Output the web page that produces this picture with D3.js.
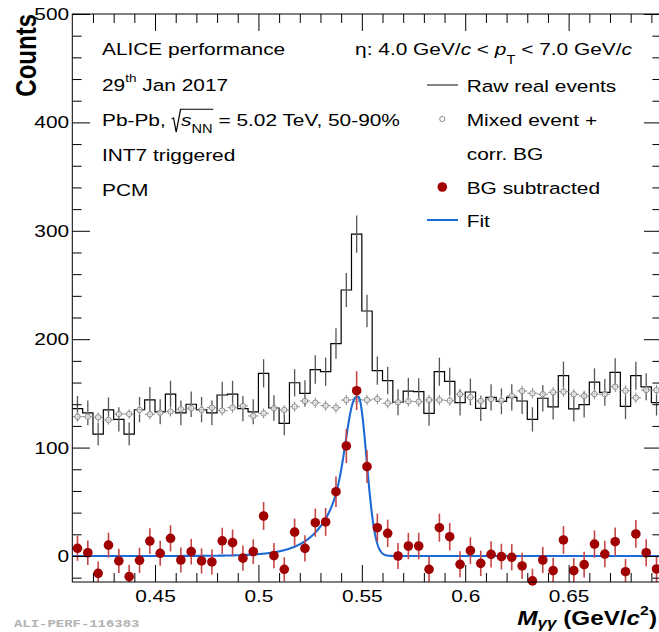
<!DOCTYPE html>
<html><head><meta charset="utf-8">
<script src="https://cdn.jsdelivr.net/npm/d3@7"></script>
<style>html,body{margin:0;padding:0;background:#fff;overflow:hidden} text{white-space:pre}</style>
</head><body><svg id="c" width="659" height="632" xmlns="http://www.w3.org/2000/svg"></svg>
<script>
// ---------------- data ----------------
const massBins = [0.4125,0.4175,0.4225,0.4275,0.4325,0.4375,0.4425,0.4475,0.4525,0.4575,
  0.4625,0.4675,0.4725,0.4775,0.4825,0.4875,0.4925,0.4975,0.5025,0.5075,
  0.5125,0.5175,0.5225,0.5275,0.5325,0.5375,0.5425,0.5475,0.5525,0.5575,
  0.5625,0.5675,0.5725,0.5775,0.5825,0.5875,0.5925,0.5975,0.6025,0.6075,
  0.6125,0.6175,0.6225,0.6275,0.6325,0.6375,0.6425,0.6475,0.6525,0.6575,
  0.6625,0.6675,0.6725,0.6775,0.6825,0.6875,0.6925];
const binHalf = 0.0025;
const rawCounts = [136,132,112.5,134.7,126,112.5,135,144,133,149.4,
  132,140,135,132,148.5,149.4,136,133,168.5,136.5,
  122.4,159.8,150,172,170,196,245.4,297,226,171,
  161.8,141.8,152,151.6,131.6,170,161,141.5,151.3,136.2,
  146.3,142.7,146.4,143,126,145.5,137.5,166.4,135.7,139.6,
  160.4,151,169.4,138,166.3,156.1,141.5];
const rawErr = [11.7,11.5,10.6,11.6,11.2,10.6,11.6,12,11.5,12.2,
  11.5,11.8,11.6,11.5,12.2,12.2,11.7,11.5,13,11.7,
  11.1,12.6,12.2,13.1,13,14,15.7,17.2,15,13.1,
  12.7,11.9,12.3,12.3,11.5,13,12.7,11.9,12.3,11.7,
  12.1,11.9,12.1,12,11.2,12.1,11.7,12.9,11.6,11.8,
  12.7,12.3,13,11.7,12.9,12.5,11.9];
const mixedBG = [128.5,128.5,128,125.5,131,131,134.7,130.7,132.2,133.2,
  135.3,136.3,134.7,136.8,134.1,136.8,138.4,129.2,131.6,136.2,
  134.7,137.8,143,141.4,138.7,136.8,143.9,144.5,143.9,144.8,
  140.9,141.8,142.7,142.4,143.9,143.9,143.3,149.2,146.4,143,
  144.8,143.3,147.6,152.2,150.1,149.2,151,151.6,149.2,147.6,
  149.4,149.2,156.2,152.5,146,153.1,153];
const mixedErr = [4.5,4.5,4.5,4.4,4.6,4.6,4.6,4.5,4.6,4.6,
  4.6,4.7,4.6,4.7,4.6,4.7,4.7,4.5,4.6,4.6,
  4.6,4.7,4.8,4.7,4.7,4.7,4.8,4.8,4.8,4.8,
  4.7,4.8,4.8,4.8,4.8,4.8,4.8,4.9,4.8,4.8,
  4.8,4.8,4.9,4.9,4.9,4.9,4.9,4.9,4.9,4.9,
  4.9,4.9,5,4.9,4.8,4.9,4.9];
const bgSub = [7.1,3,-16,10,-4.6,-19,-4,13.8,2.5,16.3,
  -3.7,4,-4.6,-5.5,14,12.3,-2,4,36.9,0.3,
  -12.3,22,7,30.7,31.4,59.3,101.5,152.5,82.4,26.1,
  20.9,0,9.2,9.2,-12.3,26.1,17.8,-7.7,4.9,-6.8,
  1.5,-0.6,-1.2,-9.2,-23,-3.7,-13.5,14.8,-13.5,-8,
  11,1.8,13.2,-14.5,20.3,3,-12];
const bgSubErr = [11.6,11.4,10.8,11.5,11.2,10.8,11.6,11.9,11.5,12.1,
  11.5,11.8,11.6,11.5,12.1,12.1,11.7,11.4,12.9,11.7,
  11.1,12.5,12.2,13,12.9,14,15.8,18,15.1,13,
  12.6,11.9,12.2,12.2,11.5,12.9,12.6,12,12.3,11.7,
  12.1,11.9,12.1,12.1,11.3,12.1,11.8,12.8,11.7,11.8,
  12.6,12.3,13,11.8,12.8,12.5,12];
// fit: Gaussian with exponential low-mass tail, linear residual BG
const fitAmp = 147, fitMean = 0.5482, fitSigma = 0.0041, fitLambda = 0.0108;
const fitBG = [0, 0];
const xMajorTicks = [0.45,0.5,0.55,0.6,0.65];
const xMinorTicks = [0.42,0.43,0.44,0.46,0.47,0.48,0.49,0.51,0.52,0.53,0.54,0.56,0.57,0.58,0.59,0.61,0.62,0.63,0.64,0.66,0.67,0.68,0.69];
const yMajorTicks = [0,100,200,300,400,500];
const yMinorTicks = [-20,20,40,60,80,120,140,160,180,220,240,260,280,320,340,360,380,420,440,460,480];

// ---------------- setup ----------------
const S = 1.214;          // horizontal stretch of the original picture
const FS = 17.2;
const FONT = "'Liberation Sans', Arial, Helvetica, sans-serif";
const svg = d3.select("#c").attr("font-family", FONT);
const x = d3.scaleLinear().domain([0.41, 0.695]).range([72.3, 661.7]);
const y = d3.scaleLinear().domain([-24, 500]).range([582, 14]);
const X0 = x.range()[0], X1 = x.range()[1], Y0 = y.range()[0], Y1 = y.range()[1];

svg.append("defs").append("clipPath").attr("id","clip").append("rect")
  .attr("x", X0).attr("y", Y1).attr("width", X1 - X0).attr("height", Y0 - Y1);
const plot = svg.append("g").attr("clip-path","url(#clip)");

// ---------------- raw histogram ----------------
const edges = massBins.map(m => m - binHalf);
edges.push(massBins[massBins.length-1] + binHalf);
const stepPts = edges.map((e,i) => [e, rawCounts[Math.min(i, rawCounts.length-1)]]);
plot.append("path").datum(stepPts)
  .attr("d", d3.line().x(d=>x(d[0])).y(d=>y(d[1])).curve(d3.curveStepAfter))
  .attr("fill","none").attr("stroke","#000").attr("stroke-width",1.2);
plot.append("g").selectAll("line").data(massBins).join("line")
  .attr("x1",(m)=>x(m)).attr("x2",(m)=>x(m))
  .attr("y1",(m,i)=>y(rawCounts[i]-rawErr[i])).attr("y2",(m,i)=>y(rawCounts[i]+rawErr[i]))
  .attr("stroke","#555").attr("stroke-width",1.3);

// ---------------- mixed event BG ----------------
const mg = plot.append("g").attr("stroke","#8a8a8a").attr("stroke-width",1).attr("fill","none");
mg.selectAll("line.h").data(massBins).join("line").attr("class","h")
  .attr("x1",m=>x(m-binHalf)).attr("x2",m=>x(m+binHalf))
  .attr("y1",(m,i)=>y(mixedBG[i])).attr("y2",(m,i)=>y(mixedBG[i]));
mg.selectAll("line.v").data(massBins).join("line").attr("class","v")
  .attr("x1",m=>x(m)).attr("x2",m=>x(m))
  .attr("y1",(m,i)=>y(mixedBG[i]-mixedErr[i])).attr("y2",(m,i)=>y(mixedBG[i]+mixedErr[i]));
mg.selectAll("circle").data(massBins).join("circle")
  .attr("cx",m=>x(m)).attr("cy",(m,i)=>y(mixedBG[i])).attr("r",2.7)
  .attr("fill","#fff").attr("fill-opacity",0.6);

// ---------------- BG subtracted ----------------
const rg = svg.append("g");
rg.selectAll("line").data(massBins).join("line")
  .attr("x1",m=>x(m)).attr("x2",m=>x(m))
  .attr("y1",(m,i)=>Math.min(Y0, y(bgSub[i]-bgSubErr[i]))).attr("y2",(m,i)=>y(bgSub[i]+bgSubErr[i]))
  .attr("stroke","#c64646").attr("stroke-width",1.6);
rg.selectAll("circle").data(massBins).join("circle")
  .attr("cx",m=>x(m)).attr("cy",(m,i)=>y(bgSub[i])).attr("r",4.8)
  .attr("fill","#a00000");

// ---------------- fit ----------------
function fitFn(m){
  const d = m - fitMean;
  const g = Math.exp(-d*d/(2*fitSigma*fitSigma));
  const peak = d < 0 ? g + (1-g)*Math.exp(d/fitLambda) : g;
  return fitAmp*peak + fitBG[0] + fitBG[1]*m;
}
const fitX = d3.range(0.41, 0.6951, 0.0002);
plot.append("path").datum(fitX)
  .attr("d", d3.line().x(m=>x(m)).y(m=>y(fitFn(m))))
  .attr("fill","none").attr("stroke","#1c6ad6").attr("stroke-width",2.1);

// ---------------- axes ----------------
function styleAxis(g, labels){
  g.select(".domain").remove();
  g.attr("font-size", FS).attr("font-family", FONT).attr("color","#000");
  g.selectAll(".tick line").attr("stroke-width",1);
  if (labels) g.selectAll("text").attr("fill","#000").attr("transform",`scale(${S},1)`);
  else g.selectAll("text").remove();
}
svg.append("g").attr("transform",`translate(0,${Y0})`)
  .call(d3.axisBottom(x).tickValues(xMajorTicks).tickSize(-17).tickSizeOuter(0).tickPadding(8).tickFormat(d=>String(d)))
  .call(g=>styleAxis(g,true));
svg.append("g").attr("transform",`translate(0,${Y0})`)
  .call(d3.axisBottom(x).tickValues(xMinorTicks).tickSize(-9).tickSizeOuter(0))
  .call(g=>styleAxis(g,false));
svg.append("g").attr("transform",`translate(0,${Y1})`)
  .call(d3.axisTop(x).tickValues(xMajorTicks).tickSize(-17).tickSizeOuter(0))
  .call(g=>styleAxis(g,false));
svg.append("g").attr("transform",`translate(0,${Y1})`)
  .call(d3.axisTop(x).tickValues(xMinorTicks).tickSize(-9).tickSizeOuter(0))
  .call(g=>styleAxis(g,false));
svg.append("g").attr("transform",`translate(${X0},0)`)
  .call(d3.axisLeft(y).tickValues(yMajorTicks).tickSize(-17.7).tickSizeOuter(0).tickPadding(2.6).tickFormat(d=>String(d)))
  .call(g=>styleAxis(g,true));
svg.append("g").attr("transform",`translate(${X0},0)`)
  .call(d3.axisLeft(y).tickValues(yMinorTicks).tickSize(-9.3).tickSizeOuter(0))
  .call(g=>styleAxis(g,false));
svg.append("g").attr("transform",`translate(${X1},0)`)
  .call(d3.axisRight(y).tickValues(yMajorTicks).tickSize(-17.7).tickSizeOuter(0))
  .call(g=>styleAxis(g,false));
svg.append("g").attr("transform",`translate(${X1},0)`)
  .call(d3.axisRight(y).tickValues(yMinorTicks).tickSize(-9.3).tickSizeOuter(0))
  .call(g=>styleAxis(g,false));
svg.append("rect").attr("x",X0).attr("y",Y1).attr("width",X1-X0).attr("height",Y0-Y1)
  .attr("fill","none").attr("stroke","#000").attr("stroke-width",1);

// ---------------- rich text helper ----------------
function rich(xp, yp, pieces, size, bold, anchorRight){
  const g = svg.append("g");
  let cx = 0; let radStart = null; let ovEnd = null;
  pieces.forEach(p => {
    if (p.rad){ radStart = cx; cx += 7.8; return; }
    let fs = size, dy = 0;
    if (p.sub){ fs = size*0.7; dy = size*(p.dy || 0.38); }
    if (p.sup){ fs = size*0.65; dy = -size*(p.dy || 0.55); }
    const t = g.append("text").attr("x",cx).attr("y",dy).attr("font-size",fs)
      .attr("font-style", p.it ? "italic" : "normal")
      .attr("font-weight", bold ? "bold" : "normal").attr("fill","#000").text(p.t);
    cx += t.node().getComputedTextLength();
    if (p.ov) ovEnd = cx;
  });
  if (radStart !== null){
    const r = radStart, top = -size*0.97;
    g.append("path").attr("d",`M${r},${-size*0.4} L${r+1.6},${-size*0.47} L${r+3.8},${size*0.36} L${r+7.4},${top} L${ovEnd+0.5},${top}`)
      .attr("fill","none").attr("stroke","#000").attr("stroke-width",1);
  }
  const tx = anchorRight ? xp - cx*S : xp;
  g.attr("transform",`translate(${tx},${yp}) scale(${S},1)`);
  return g;
}

// left info block
rich(102, 55, [{t:"ALICE performance"}], FS);
rich(102, 91, [{t:"29"},{t:"th",sup:1},{t:" Jan 2017"}], FS);
rich(102, 126, [{t:"Pb-Pb, "},{rad:1},{t:"s",it:1,ov:1},{t:"NN",sub:1,ov:1},{t:" = 5.02 TeV, 50-90%"}], FS);
rich(102, 161, [{t:"INT7 triggered"}], FS);
rich(102, 196, [{t:"PCM"}], FS);

// header
rich(632, 55, [{t:"η: 4.0 GeV/"},{t:"c",it:1},{t:" < "},{t:"p",it:1},{t:"T",sub:1,dy:0.55},{t:" < 7.0 GeV/"},{t:"c",it:1}], FS, false, true);

// legend
svg.append("line").attr("x1",427).attr("x2",458).attr("y1",85).attr("y2",85).attr("stroke","#333").attr("stroke-width",1.2);
rich(466.7, 92, [{t:"Raw real events"}], FS);
svg.append("circle").attr("cx",442.3).attr("cy",119).attr("r",2.6).attr("fill","none").attr("stroke","#8a8a8a");
rich(466.7, 126, [{t:"Mixed event +"}], FS);
rich(466.7, 160, [{t:"corr. BG"}], FS);
svg.append("circle").attr("cx",442.3).attr("cy",187).attr("r",4.8).attr("fill","#a00000");
rich(466.7, 194, [{t:"BG subtracted"}], FS);
svg.append("line").attr("x1",427).attr("x2",458).attr("y1",220).attr("y2",220).attr("stroke","#1c6ad6").attr("stroke-width",2);
rich(466.7, 227, [{t:"Fit"}], FS);

// axis titles
svg.append("text").attr("transform",`translate(36,14) scale(${S},1) rotate(-90)`)
  .attr("text-anchor","end").attr("font-weight","bold").attr("font-size",24).attr("fill","#000").text("Counts");
rich(657, 625, [{t:"M",it:1},{t:"γγ",it:1,sub:1,dy:0.15},{t:" (GeV/"},{t:"c",it:1},{t:"2",sup:1,dy:0.5},{t:")"}], 20, true, true);

// id tag
svg.append("text").attr("transform",`translate(14,627) scale(${S},1)`)
  .attr("font-family","'Liberation Mono', 'DejaVu Sans Mono', monospace").attr("font-weight","bold")
  .attr("font-size",11.5).attr("fill","#b3b3b3").text("ALI-PERF-116383");
</script>
</body></html>
